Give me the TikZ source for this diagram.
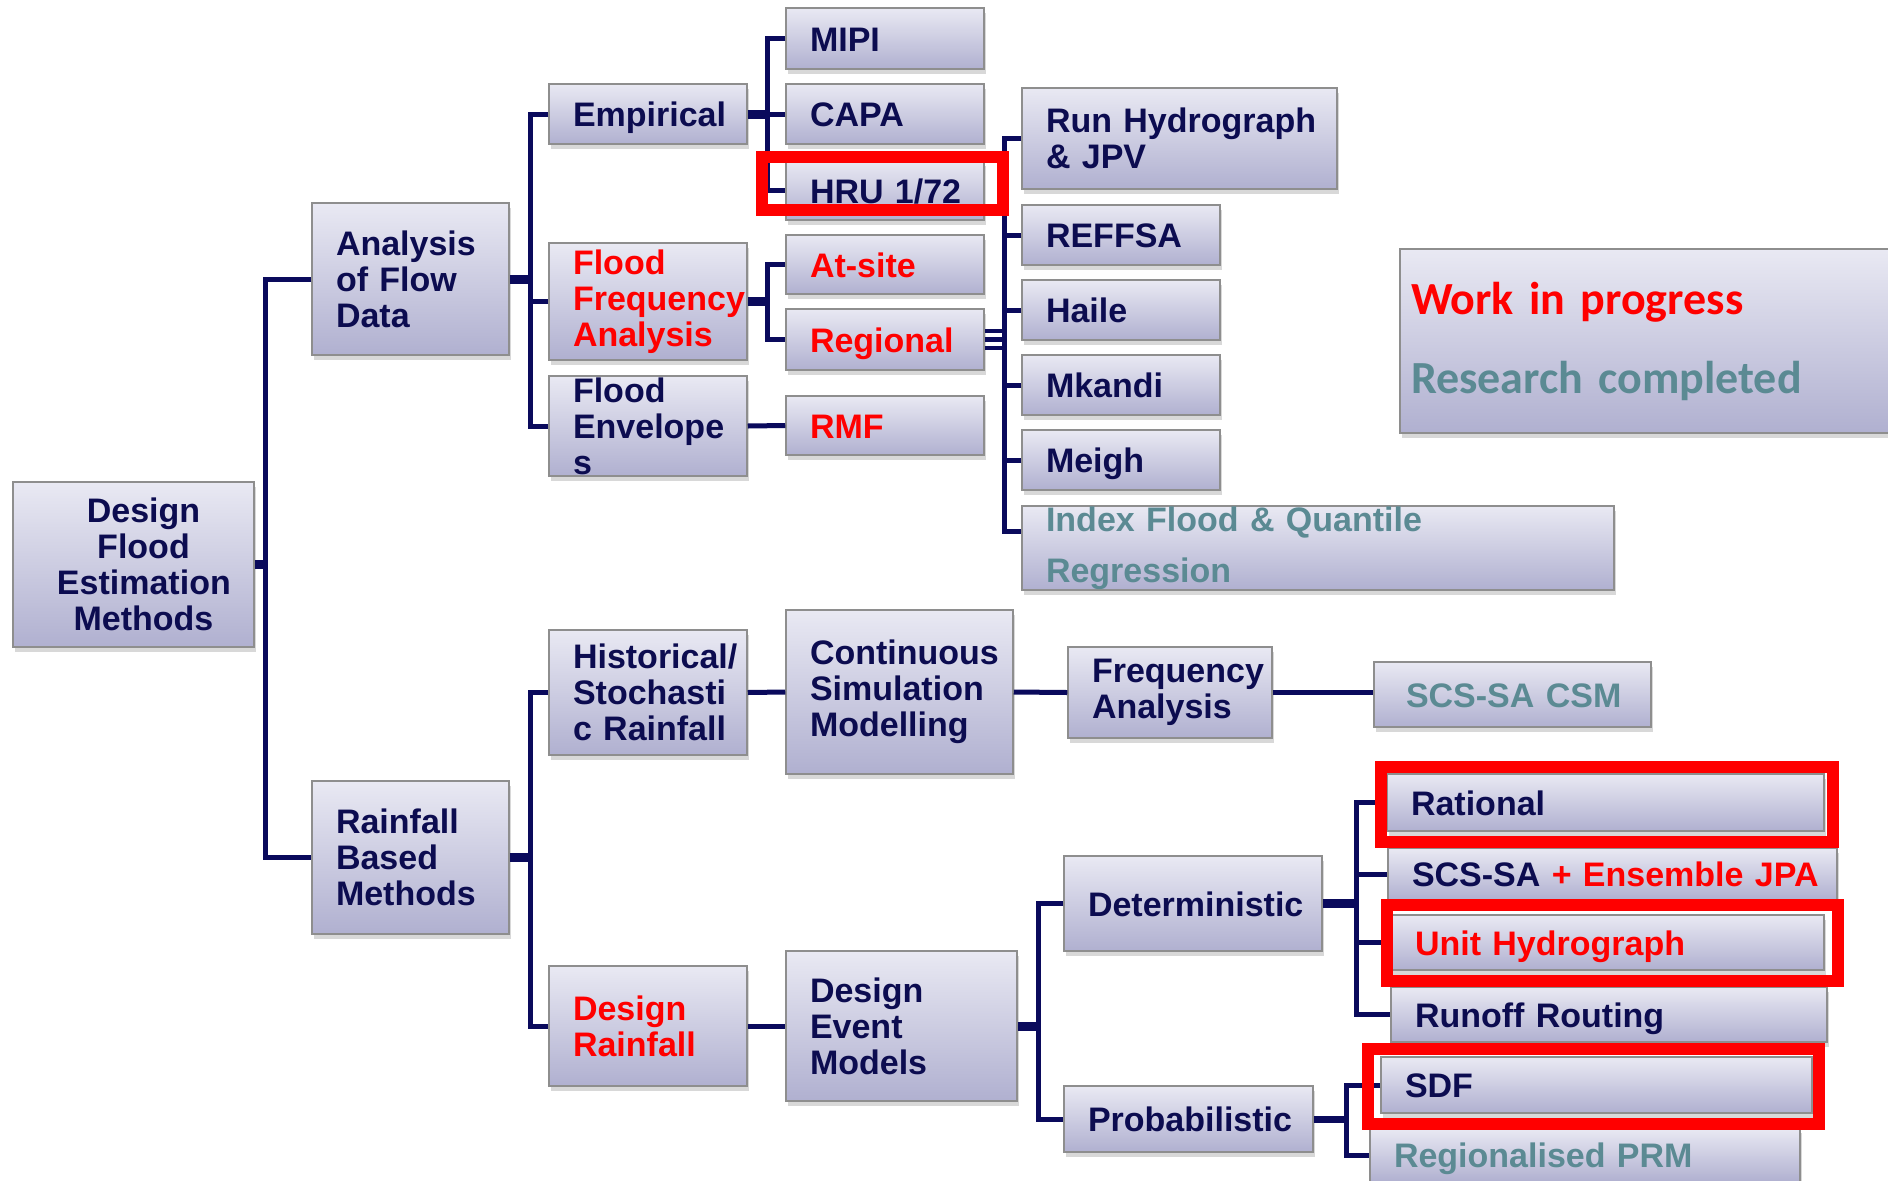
\documentclass[tikz,border=0pt]{standalone}
\usepackage{fontspec}
\setmainfont{Liberation Sans}
\newfontfamily\legendfont{Carlito}
\usetikzlibrary{shadows}
\definecolor{ink}{HTML}{0C0C50}
\definecolor{linkc}{HTML}{0A0A5C}
\definecolor{hot}{HTML}{FF0000}
\definecolor{done}{HTML}{5B8A93}
\definecolor{boxtop}{HTML}{E9E9F3}
\definecolor{boxbot}{HTML}{B0B0D0}
\definecolor{boxline}{HTML}{8E8E8E}

\begin{document}
\begin{tikzpicture}
[x=1pt,y=-1pt,
sz/.code 2 args={\pgfmathsetmacro\blkw{#1-48}%
  \edef\blknext{\noexpand\tikzset{minimum width=#1pt,minimum height=#2pt,text width=\blkw pt}}\blknext},
blk/.style={draw=boxline,line width=1.5pt,top color=boxtop,bottom color=boxbot,
  drop shadow={shadow xshift=2pt,shadow yshift=-5pt,opacity=0.3},
  inner sep=0pt,align=left,text=ink,
  font={\fontsize{34}{36}\selectfont\bfseries\hyphenpenalty=10000\exhyphenpenalty=10000}},
one/.style={text height=25pt,text depth=0pt},
link/.style={draw=linkc,line width=5pt},
stub/.style={draw=linkc,line width=9pt},
hl/.style={draw=hot,line width=12pt}]
\path[use as bounding box,fill=white] (0,0) rectangle (1888,1181);

\node[blk,sz={241}{165},align=center] (design) at (133.5,564.5)
  {\hspace*{20pt}Design\\\hspace*{20pt}Flood\\\hspace*{20pt}Estimation\\\hspace*{20pt}Methods};
\node[blk,sz={197}{152}] (analysis) at (410.5,279) {Analysis\\of Flow\\Data};
\node[blk,sz={197}{153}] (rainfall) at (410.5,857.5) {Rainfall\\Based\\Methods};

\node[blk,one,sz={198}{60}] (empirical) at (648,114) {Empirical};
\node[blk,sz={198}{117},text=hot] (ffa) at (648,301.5) {Flood\\Frequency\\Analysis};
\node[blk,sz={198}{100}] (envelope) at (648,426) {Flood\\Envelope\\s};
\node[blk,one,sz={198}{61}] (mipi) at (885,38.5) {MIPI};
\node[blk,one,sz={198}{60}] (capa) at (885,114) {CAPA};
\node[blk,one,sz={198}{59}] (hru) at (885,190.5) {HRU~1/72};
\node[blk,one,sz={198}{59},text=hot] (atsite) at (885,264.5) {At-site};
\node[blk,one,sz={198}{61},text=hot] (regional) at (885,339.5) {Regional};
\node[blk,one,sz={198}{59},text=hot] (rmf) at (885,425.5) {RMF};
\node[blk,sz={315}{101}] (runhyd) at (1179.5,138.5) {Run~Hydrograph\\\& JPV};
\node[blk,one,sz={198}{60}] (reffsa) at (1121,235) {REFFSA};
\node[blk,one,sz={198}{60}] (haile) at (1121,310) {Haile};
\node[blk,one,sz={198}{60}] (mkandi) at (1121,385) {Mkandi};
\node[blk,one,sz={198}{60}] (meigh) at (1121,460) {Meigh};
\node[blk,sz={592}{84},text=done] (index) at (1318,548) {Index Flood \& Quantile\\[15pt]Regression};
\node[blk,minimum width=500pt,minimum height=184pt,text width=478pt,
  font={\legendfont\fontsize{46}{79}\selectfont\bfseries}] (legend) at (1650,341)
  {\textcolor{hot}{Work in progress}\\\textcolor{done}{Research completed}};

\node[blk,sz={198}{125}] (historical) at (648,692.5) {Historical/\\Stochasti\\c~Rainfall};
\node[blk,sz={227}{164}] (continuous) at (899.5,692) {Continuous\\Simulation\\Modelling};
\node[blk,sz={204}{91}] (freqan) at (1170,692.5) {Frequency\\Analysis};
\node[blk,one,sz={277}{65},text width=213pt,text=done] (csm) at (1512.5,694.5) {SCS-SA~CSM};
\node[blk,sz={198}{120},text=hot] (designrain) at (648,1026) {Design\\Rainfall};
\node[blk,sz={231}{150}] (dem) at (901.5,1026) {Design\\Event\\Models};
\node[blk,one,sz={258}{95}] (determ) at (1193,903.5) {Deterministic};
\node[blk,one,sz={249}{66}] (probab) at (1188.5,1119) {Probabilistic};
\node[blk,one,sz={437}{57}] (rational) at (1605.5,802.5) {Rational};
\node[blk,one,sz={449}{52}] (scssa) at (1612.5,874) {SCS-SA~\textcolor{hot}{+~Ensemble~JPA}};
\node[blk,one,sz={433}{55},text=hot] (unithyd) at (1607.5,942.5) {Unit~Hydrograph};
\node[blk,one,sz={436}{55}] (runoff) at (1609,1014.5) {Runoff~Routing};
\node[blk,one,sz={431}{56}] (sdf) at (1596.5,1085) {SDF};
\node[blk,one,sz={430}{54},text=done] (prm) at (1585,1155) {Regionalised~PRM};

\coordinate (tA) at (265,0);
\coordinate (tB) at (530,0);
\coordinate (tC) at (767,0);
\coordinate (tE) at (1004,0);
\coordinate (tG) at (1038,0);
\coordinate (tH) at (1356,0);
\coordinate (tI) at (1346,0);
\coordinate (ix) at ([yshift=17pt]index.west);

\draw[stub] (design.east) -- (design.east -| tA);
\draw[link] (analysis.west) -- (analysis.west -| tA) -- (rainfall.west -| tA) -- (rainfall.west);

\draw[stub] (analysis.east) -- (analysis.east -| tB);
\draw[link] (empirical.west) -- (empirical.west -| tB) -- (envelope.west -| tB) -- (envelope.west);
\draw[link] (ffa.west) -- (ffa.west -| tB);

\draw[stub] (empirical.east) -- (empirical.east -| tC);
\draw[link] (mipi.west) -- (mipi.west -| tC) -- (hru.west -| tC) -- (hru.west);
\draw[link] (capa.west) -- (capa.west -| tC);
\draw[stub] (ffa.east) -- (ffa.east -| tC);
\draw[link] (atsite.west) -- (atsite.west -| tC) -- (regional.west -| tC) -- (regional.west);
\draw[link] (envelope.east) -- (rmf.west);

\foreach \dy in {8.5,0,-8.5}
  \draw[link,line width=4.5pt] ([yshift=\dy pt]regional.east) -- ++(20,0);
\draw[link] (runhyd.west) -- (runhyd.west -| tE) -- (ix -| tE) -- (ix);
\foreach \n in {reffsa,haile,mkandi,meigh}
  \draw[link] (\n.west) -- (\n.west -| tE);

\draw[stub] (rainfall.east) -- (rainfall.east -| tB);
\draw[link] (historical.west) -- (historical.west -| tB) -- (designrain.west -| tB) -- (designrain.west);
\draw[link] (historical.east) -- (continuous.west);
\draw[link] (continuous.east) -- (freqan.west);
\draw[link] (freqan.east) -- (freqan.east -| csm.west);
\draw[link] (designrain.east) -- (dem.west);

\draw[stub] (dem.east) -- (dem.east -| tG);
\draw[link] (determ.west) -- (determ.west -| tG) -- (probab.west -| tG) -- (probab.west);
\draw[stub] (determ.east) -- (determ.east -| tH);
\draw[link] (rational.west) -- (rational.west -| tH) -- (runoff.west -| tH) -- (runoff.west);
\foreach \n in {scssa,unithyd}
  \draw[link] (\n.west) -- (\n.west -| tH);
\draw[link,line width=7pt] (probab.east) -- (probab.east -| tI);
\draw[link] (sdf.west) -- (sdf.west -| tI) -- (prm.west -| tI) -- (prm.west);

\draw[hl] (762,157) rectangle (1003,210);
\draw[hl] (1381,767) rectangle (1833,842);
\draw[hl] (1387,905) rectangle (1838,981);
\draw[hl] (1368,1049) rectangle (1819,1124);
\end{tikzpicture}
\end{document}
